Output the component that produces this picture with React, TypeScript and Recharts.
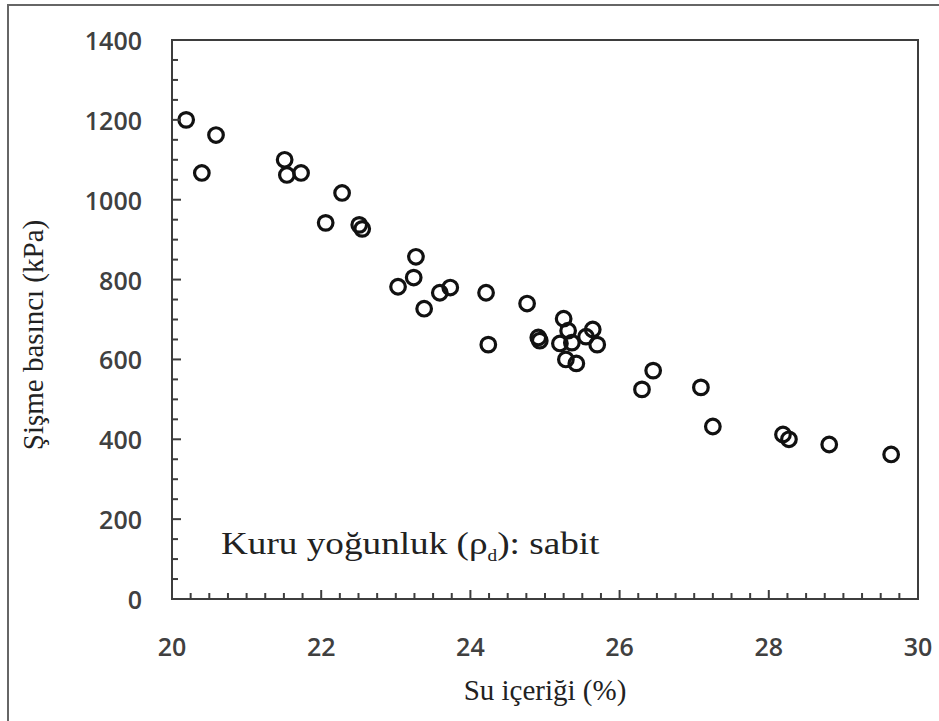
import React from "react";
import { ReferenceArea, Scatter, ScatterChart, XAxis, YAxis } from "recharts";

// Su içeriği (%) – Şişme basıncı (kPa), kuru yoğunluk sabit
const waterContent = [
  20.19, 20.59, 20.4, 21.51, 21.54, 21.73, 22.28, 22.06, 22.51, 22.55, 23.27, 23.24, 23.03,
  23.38, 23.59, 23.73, 24.21, 24.24, 24.76, 24.91, 24.93, 25.25, 25.31, 25.2, 25.36, 25.28,
  25.42, 25.55, 25.64, 25.7, 26.3, 26.45, 27.09, 27.25, 28.19, 28.27, 28.81, 29.64
];
const swellingPressure = [
  1200, 1162, 1067, 1100, 1062, 1067, 1017, 942, 937, 927, 857, 805, 782,
  727, 767, 780, 767, 637, 740, 655, 647, 702, 672, 640, 642, 600,
  590, 657, 675, 637, 525, 572, 530, 432, 412, 400, 387, 362
];

const xMajorTicks = [20, 22, 24, 26, 28, 30];
const yMajorTicks = [0, 200, 400, 600, 800, 1000, 1200, 1400];
const xTicks = Array.from({ length: 41 }, (_, i) => 20 + i * 0.25);
const yTicks = Array.from({ length: 29 }, (_, i) => i * 50);

const data = waterContent.map((x, i) => ({ x, y: swellingPressure[i] }));

const AXIS_COLOR = "#3d3d3d";
const TICK_FONT = {
  fontFamily: "'Open Sans', sans-serif",
  fontSize: 25,
  fontWeight: 600,
  fill: "#404040"
};
const SERIF = "'Liberation Serif', 'DejaVu Serif', serif";

function XTick({ x, y, payload }: any) {
  const major = xMajorTicks.includes(payload.value);
  return (
    <g>
      <line x1={x} x2={x} y1={y} y2={y - (major ? 9 : 6)} stroke={AXIS_COLOR} strokeWidth={2} />
      {major && (
        <text x={x} y={y + 47} textAnchor="middle" dominantBaseline="central" {...TICK_FONT}>
          {payload.value}
        </text>
      )}
    </g>
  );
}

function YTick({ x, y, payload }: any) {
  const major = yMajorTicks.includes(payload.value);
  return (
    <g>
      <line x1={x} x2={x + (major ? 9 : 6)} y1={y} y2={y} stroke={AXIS_COLOR} strokeWidth={2} />
      {major && (
        <text x={x - 30} y={y} textAnchor="end" dominantBaseline="central" {...TICK_FONT}>
          {payload.value}
        </text>
      )}
    </g>
  );
}

const ring = (p: any) => (
  <circle cx={p.cx} cy={p.cy} r={7.3} fill="none" stroke="#111" strokeWidth={3.2} />
);

export default function App() {
  return (
    <div style={{ position: "absolute", left: 0, top: 0, width: 939, height: 721, background: "#fff" }}>
      <div
        style={{
          position: "absolute",
          left: 7,
          top: 4,
          right: -4,
          bottom: -4,
          borderLeft: "2px solid #666",
          borderTop: "2px solid #666"
        }}
      />
      <ScatterChart width={939} height={721} margin={{ top: 40, right: 21, bottom: 62, left: 62 }}>
        <XAxis
          type="number"
          dataKey="x"
          domain={[20, 30]}
          ticks={xTicks}
          interval={0}
          tick={<XTick />}
          tickSize={0}
          tickMargin={0}
          tickLine={false}
          height={60}
          axisLine={{ stroke: AXIS_COLOR, strokeWidth: 2 }}
        />
        <YAxis
          type="number"
          dataKey="y"
          domain={[0, 1400]}
          ticks={yTicks}
          interval={0}
          tick={<YTick />}
          tickSize={0}
          tickMargin={0}
          tickLine={false}
          width={110}
          axisLine={{ stroke: AXIS_COLOR, strokeWidth: 2 }}
        />
        <ReferenceArea x1={20} x2={30} y1={0} y2={1400} fill="none" stroke={AXIS_COLOR} strokeWidth={2} />
        <Scatter data={data} shape={ring} isAnimationActive={false} />
      </ScatterChart>
      <div
        style={{
          position: "absolute",
          left: 33,
          top: 335,
          transform: "translate(-50%, -50%) rotate(-90deg)",
          whiteSpace: "nowrap",
          fontFamily: SERIF,
          fontSize: 29,
          color: "#222"
        }}
      >
        Şişme basıncı (kPa)
      </div>
      <div
        style={{
          position: "absolute",
          left: 545,
          top: 690,
          transform: "translate(-50%, -50%)",
          whiteSpace: "nowrap",
          fontFamily: SERIF,
          fontSize: 29,
          color: "#222"
        }}
      >
        Su içeriği (%)
      </div>
      <div
        style={{
          position: "absolute",
          left: 221,
          top: 527,
          whiteSpace: "nowrap",
          fontFamily: SERIF,
          fontSize: 31,
          lineHeight: "34px",
          color: "#222",
          transform: "scaleX(1.2)",
          transformOrigin: "left center"
        }}
      >
        Kuru yoğunluk (ρ<sub style={{ fontSize: 16 }}>d</sub>): sabit
      </div>
    </div>
  );
}
